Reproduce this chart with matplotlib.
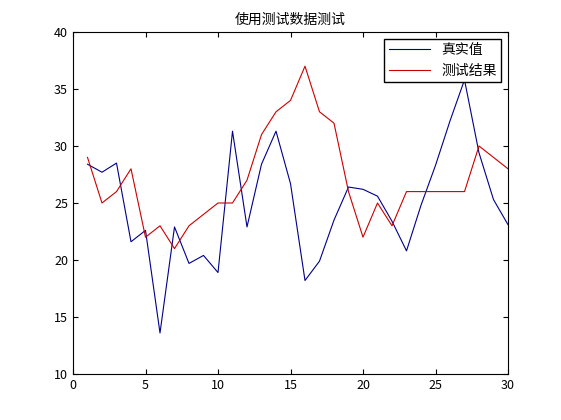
import matplotlib
matplotlib.use("Agg")
import matplotlib.pyplot as plt

plt.rcParams['font.family'] = ['Noto Sans CJK SC', 'DejaVu Sans']
x = list(range(1, 31))
true_vals = [28.4, 27.7, 28.5, 21.6, 22.6, 13.6, 22.9, 19.7, 20.4, 18.9,
             31.3, 22.9, 28.4, 31.3, 26.7, 18.2, 19.9, 23.5, 26.4, 26.2,
             25.6, 23.4, 20.8, 24.8, 28.3, 32.2, 35.8, 29.4, 25.3, 23.1]
pred_vals = [29, 25, 26, 28, 22, 23, 21, 23, 24, 25, 25, 27, 31, 33, 34, 37,
             33, 32, 26, 22, 25, 23, 26, 26, 26, 26, 26, 30, 29, 28]

fig = plt.figure(figsize=(5.61, 4.2), dpi=100)
ax = fig.add_axes([73/561, 46/420, 435/561, 342/420])
ax.plot(x, true_vals, color='#00008b', lw=0.8, label='真实值')
ax.plot(x, pred_vals, color='#cc0000', lw=0.8, label='测试结果')
ax.set_xlim(0, 30)
ax.set_ylim(10, 40)
ax.set_xticks(range(0, 31, 5))
ax.set_yticks(range(10, 41, 5))
ax.tick_params(direction='in', labelsize=9, top=True, right=True)
ax.set_title('使用测试数据测试', fontsize=10)
ax.legend(loc='upper right', fancybox=False, edgecolor='black', framealpha=1,
          fontsize=10, borderpad=0.3, handlelength=3)
fig.savefig('out.png', dpi=100)
